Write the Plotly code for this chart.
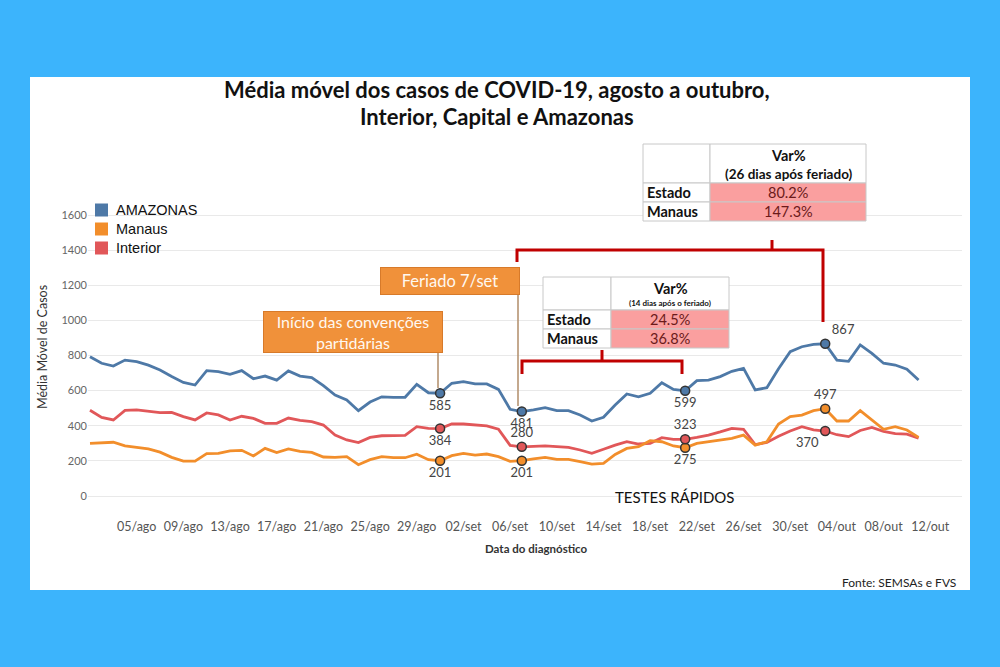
import pandas as pd
import plotly.graph_objects as go

# daily moving averages, 01/ago to 11/out
dates = pd.date_range("2020-08-01", periods=72, freq="D")

amazonas = [793, 756, 740, 774, 765, 745, 718, 680, 647, 632,
            714, 708, 693, 714, 668, 683, 660, 712, 683, 674,
            628, 575, 547, 486, 535, 565, 562, 562, 636, 588,
            585, 642, 651, 638, 638, 607, 494, 481, 490, 503,
            486, 486, 461, 427, 448, 518, 581, 565, 585, 645,
            607, 599, 657, 660, 680, 710, 727, 604, 617, 725,
            822, 850, 864, 867, 774, 767, 860, 812, 756, 746,
            722, 660]
interior = [488, 448, 433, 488, 491, 485, 475, 476, 452, 433,
            473, 462, 433, 454, 442, 414, 414, 444, 431, 423,
            404, 347, 319, 304, 334, 343, 345, 345, 395, 385,
            384, 410, 410, 404, 399, 380, 288, 280, 281, 285,
            281, 277, 262, 243, 266, 290, 309, 296, 300, 332,
            323, 323, 334, 347, 365, 385, 380, 293, 305, 340,
            370, 395, 376, 370, 349, 338, 373, 391, 368, 355,
            352, 330]
manaus = [300, 304, 306, 286, 278, 268, 250, 220, 199, 199,
          241, 243, 257, 260, 228, 271, 247, 268, 254, 248,
          222, 220, 224, 178, 207, 224, 218, 218, 238, 207,
          201, 230, 243, 233, 239, 224, 197, 201, 211, 220,
          209, 209, 196, 182, 186, 237, 271, 281, 315, 309,
          285, 275, 300, 309, 319, 328, 347, 290, 309, 410,
          452, 461, 486, 497, 427, 427, 486, 433, 380, 395,
          376, 334]

# highlighted days: 31/ago, 07/set, 21/set, 03/out
marked = [30, 37, 51, 63]
pos_amazonas = ["bottom center", "bottom center", "bottom center", "top right"]
pos_interior = ["bottom center", "top center", "top center", "bottom left"]
pos_manaus = ["bottom center", "bottom center", "bottom center", "top center"]

tick_dates = pd.date_range("2020-08-05", "2020-10-12", freq="4D")
tick_labels = ["05/ago", "09/ago", "13/ago", "17/ago", "21/ago", "25/ago", "29/ago",
               "02/set", "06/set", "10/set", "14/set", "18/set", "22/set", "26/set",
               "30/set", "04/out", "08/out", "12/out"]

tab_rows = ["Estado", "Manaus"]
var14 = ["24.5%", "36.8%"]
var26 = ["80.2%", "147.3%"]

BLUE = "#4e79a7"
ORANGE = "#f28e2b"
RED = "#e15759"
BOX = "#f0913a"
PINK = "#fa9f9f"

W, H = 1000, 667
def px(x):
    return x / W
def py(y):
    return 1 - y / H

fig = go.Figure()

series = [("AMAZONAS", amazonas, BLUE, pos_amazonas),
          ("Manaus", manaus, ORANGE, pos_manaus),
          ("Interior", interior, RED, pos_interior)]

# lines first (blue on top like the original)
for name, vals, col, pos in reversed(series):
    fig.add_trace(go.Scatter(x=dates, y=vals, mode="lines", name=name,
                             line=dict(color=col, width=2.8), showlegend=False))

for name, vals, col, pos in series:
    fig.add_trace(go.Scatter(x=[dates[i] for i in marked], y=[vals[i] for i in marked],
                             mode="markers+text", text=[str(vals[i]) for i in marked],
                             textposition=pos, showlegend=False,
                             textfont=dict(family="Lato", size=13, color="#444"),
                             marker=dict(size=9, color=col, line=dict(color="#333", width=1.5))))

shapes = []
annotations = []

def note(x, y, text, size, color="#111", family="Lato", **kw):
    d = dict(x=px(x), y=py(y), xref="paper", yref="paper", showarrow=False,
             xanchor="center", yanchor="middle", text=text,
             font=dict(family=family, size=size, color=color))
    d.update(kw)
    annotations.append(d)

# white card
shapes.append(dict(type="rect", xref="paper", yref="paper", layer="below",
                   x0=px(30), x1=px(970), y0=py(590), y1=py(77),
                   fillcolor="white", line=dict(width=0)))

# legend: coloured squares with names
for k, (name, vals, col, pos) in enumerate(series):
    yc = 210 + 19 * k
    shapes.append(dict(type="rect", xref="paper", yref="paper",
                       x0=px(95), x1=px(108), y0=py(yc + 6.5), y1=py(yc - 6.5),
                       fillcolor=col, line=dict(width=0)))
    note(114, yc, name, 14.5, family="Liberation Sans", xanchor="left")

def add_table(x0, xm, x1, ys, sub, sub_size, sub_y, head_y, vals):
    g = "#c8c8c8"
    cells = [(x0, xm, ys[0], ys[1], "white"), (xm, x1, ys[0], ys[1], "white")]
    for r in range(2):
        cells.append((x0, xm, ys[r + 1], ys[r + 2], "white"))
        cells.append((xm, x1, ys[r + 1], ys[r + 2], PINK))
    for a, b, c, d, f in cells:
        shapes.append(dict(type="rect", xref="paper", yref="paper",
                           x0=px(a), x1=px(b), y0=py(d), y1=py(c),
                           fillcolor=f, line=dict(color=g, width=1)))
    cx = (xm + x1) / 2
    note(cx, head_y, "<b>Var%</b>", 14.5)
    note(cx, sub_y, "<b>" + sub + "</b>", sub_size)
    for r in range(2):
        ym = (ys[r + 1] + ys[r + 2]) / 2
        note(x0 + 2, ym, "<b>" + tab_rows[r] + "</b>", 14.5, xanchor="left")
        note(cx, ym, vals[r], 14.5, color="#6b1a1a")

add_table(643, 710, 866, [144, 183, 202, 221], "(26 dias após feriado)", 13.5, 174, 155, var26)
add_table(543, 611, 729, [277, 310, 329, 348], "(14 dias após o feriado)", 8, 303, 289, var14)

def path(pts):
    s = ""
    for cmd, x, y in pts:
        s += "%s %.5f,%.5f " % (cmd, px(x), py(y))
    return s.strip()

red_line = dict(color="#c00000", width=3)
shapes.append(dict(type="path", xref="paper", yref="paper", line=red_line,
                   path=path([("M", 517, 262), ("L", 517, 250), ("L", 823, 250), ("L", 823, 322)])))
shapes.append(dict(type="path", xref="paper", yref="paper", line=red_line,
                   path=path([("M", 772, 250), ("L", 772, 240)])))
shapes.append(dict(type="path", xref="paper", yref="paper", line=red_line,
                   path=path([("M", 522, 374), ("L", 522, 361), ("L", 682, 361), ("L", 682, 374)])))
shapes.append(dict(type="path", xref="paper", yref="paper", line=red_line,
                   path=path([("M", 602, 361), ("L", 602, 350)])))

# connectors from the orange boxes
tan = dict(color="#b08d68", width=1.5)
shapes.append(dict(type="line", xref="paper", yref="paper", line=tan,
                   x0=px(438), x1=px(438), y0=py(353), y1=py(388)))
shapes.append(dict(type="line", xref="paper", yref="paper", line=tan,
                   x0=px(518), x1=px(518), y0=py(295), y1=py(406)))

note(353, 332, "Início das convenções<br>partidárias", 16, color="#fff8f0",
     width=178, height=40, bgcolor=BOX, bordercolor="#d77a2a", borderwidth=1, borderpad=0)
note(450, 281, "Feriado 7/set", 16.5, color="#fff8f0",
     width=138, height=26, bgcolor=BOX, bordercolor="#d77a2a", borderwidth=1, borderpad=0)

note(497, 90, "<b>Média móvel dos casos de COVID-19, agosto a outubro,</b>", 22)
note(497, 116, "<b>Interior, Capital e Amazonas</b>", 22)
note(42, 347, "Média Móvel de Casos", 12.5, color="#333", textangle=-90)
note(536, 548, "<b>Data do diagnóstico</b>", 11.5, color="#333")
note(674, 497, "TESTES RÁPIDOS", 15)
note(958, 582, "Fonte: SEMSAs e FVS", 12, color="#222", xanchor="right")

day = 11.67
x_start = dates[0] + pd.Timedelta(days=(88 - 90) / day)
x_end = dates[0] + pd.Timedelta(days=(962 - 90) / day)
y_px = 0.1756

fig.update_layout(
    width=W, height=H,
    margin=dict(l=0, r=0, t=0, b=0),
    paper_bgcolor="#3cb4fc",
    plot_bgcolor="rgba(0,0,0,0)",
    shapes=shapes,
    annotations=annotations,
    showlegend=False,
    xaxis=dict(domain=[px(88), px(962)], range=[x_start, x_end],
               tickvals=list(tick_dates), ticktext=tick_labels,
               showgrid=False, zeroline=False, showline=False, ticks="",
               ticklabelstandoff=5,
               tickfont=dict(family="Lato", size=12.5, color="#555")),
    yaxis=dict(domain=[py(512), py(200)],
               range=[(496 - 512) / y_px, (496 - 200) / y_px],
               tickvals=list(range(0, 1601, 200)),
               gridcolor="#e9e9e9", zeroline=False, showline=False, ticks="",
               tickfont=dict(family="Lato", size=11, color="#666")),
)

fig.write_html("out.html", config={"displayModeBar": False},
               post_script="document.body.style.margin='0';")
